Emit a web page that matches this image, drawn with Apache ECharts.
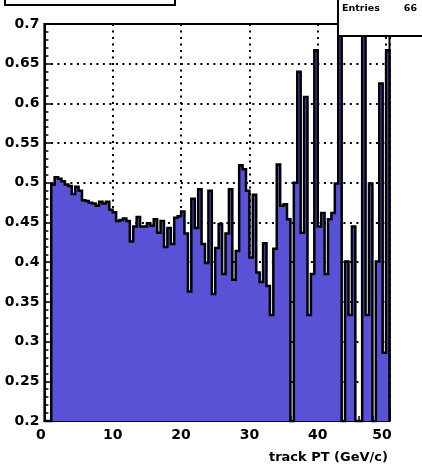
<!DOCTYPE html>
<html>
<head>
<meta charset="utf-8">
<script src="https://cdn.jsdelivr.net/npm/echarts@6/dist/echarts.min.js"></script>
<style>
html,body{margin:0;padding:0;background:#fff;}
#chart{width:422px;height:467px;}
</style>
</head>
<body>
<div id="chart"></div>
<script>
// ---- data ----
const xMin = 0;
const xMax = 50.5;
const binWidth = 0.5;
const yMin = 0.2;
const yMax = 0.7;
const xTickLabels = [0, 10, 20, 30, 40, 50];
const yTickLabels = ['0.2','0.25','0.3','0.35','0.4','0.45','0.5','0.55','0.6','0.65','0.7'];
const binValues = [
  0, 0, 0.498, 0.507, 0.505, 0.502, 0.498, 0.496, 0.486, 0.495,
  0.490, 0.478, 0.477, 0.475, 0.474, 0.471, 0.476, 0.474, 0.476, 0.466,
  0.463, 0.452, 0.453, 0.455, 0.452, 0.426, 0.445, 0.457, 0.445, 0.445,
  0.449, 0.446, 0.454, 0.437, 0.452, 0.419, 0.443, 0.423, 0.456, 0.458,
  0.464, 0.436, 0.363, 0.480, 0.443, 0.492, 0.423, 0.399, 0.490, 0.360,
  0.418, 0.448, 0.385, 0.436, 0.492, 0.378, 0.414, 0.522, 0.517, 0.490,
  0.406, 0.485, 0.387, 0.375, 0.424, 0.370, 0.3335, 0.417, 0.523, 0.471,
  0.473, 0.454, 0, 0.500, 0.640, 0.437, 0.608, 0.3335, 0.385, 0.667,
  0.445, 0.462, 0.385, 0.454, 0.462, 0.499, 1.0, 0, 0.401, 0.3335,
  0.445, 0, 0, 1.0, 0.3335, 0.499, 0, 0.401, 0.625, 0.286,
  0.667
];
const entriesLabel = 'Entries';
const entriesValue = '66';
const xTitle = 'track PT (GeV/c)';

// ---- build ----
const fillColor = '#5a52d6';
const binData = binValues.map((v, i) => [xMin + i * binWidth, xMin + (i + 1) * binWidth, v]);
const clampY = v => Math.min(Math.max(v, yMin), yMax);
const font = '"DejaVu Sans", Verdana, sans-serif';

function renderFill(params, api) {
  const lo = api.value(0), hi = api.value(1), v = api.value(2);
  const top = clampY(v);
  if (top <= yMin) return null;
  const p0 = api.coord([lo, top]);
  const p1 = api.coord([hi, yMin]);
  return {
    type: 'rect',
    shape: { x: p0[0] - 0.5, y: p0[1], width: p1[0] - p0[0] + 1, height: p1[1] - p0[1] },
    style: { fill: fillColor }
  };
}

function renderOutline(params, api) {
  if (params.dataIndex !== 0) return null;
  const pts = [api.coord([binData[0][0], yMin])];
  binData.forEach(b => {
    const c = clampY(b[2]);
    pts.push(api.coord([b[0], c]));
    pts.push(api.coord([b[1], c]));
  });
  pts.push(api.coord([binData[binData.length - 1][1], yMin]));
  return {
    type: 'polyline',
    shape: { points: pts },
    style: { stroke: '#000', lineWidth: 2.5, fill: null, lineJoin: 'miter' }
  };
}

const isMultiple = (v, step) => Math.abs(v / step - Math.round(v / step)) < 1e-6;
const labelStyle = { fontFamily: font, fontWeight: 'bold', fontSize: 14, color: '#000' };

const chart = echarts.init(document.getElementById('chart'), null, { renderer: 'canvas' });
chart.setOption({
  animation: false,
  backgroundColor: '#fff',
  grid: { left: 44.4, right: 32.5, top: 24, bottom: 46, show: true, borderColor: '#000', borderWidth: 2, backgroundColor: 'transparent' },
  xAxis: [
    {
      type: 'value', min: xMin, max: xMax, interval: 2, position: 'bottom',
      axisLine: { show: true, onZero: false, lineStyle: { color: '#000', width: 2 } },
      axisTick: { show: true, inside: true, length: 5, lineStyle: { color: '#000', width: 1.5 } },
      splitLine: { show: false },
      axisLabel: Object.assign({
        show: true, margin: 7,
        showMaxLabel: false,
        formatter: v => {
          if (!isMultiple(v, 10) || xTickLabels.indexOf(Math.round(v)) < 0) return '';
          if (v === 0) return '{l|0}';
          if (v === 50) return '{r|50}';
          return String(Math.round(v));
        },
        rich: {
          l: Object.assign({ padding: [0, 7, 0, 0] }, labelStyle),
          r: Object.assign({ padding: [0, 8, 0, 0] }, labelStyle)
        }
      }, labelStyle)
    },
    {
      type: 'value', min: xMin, max: xMax, interval: 10, position: 'bottom',
      axisLine: { show: false, onZero: false },
      axisTick: { show: true, inside: true, length: 10, lineStyle: { color: '#000', width: 1.5 } },
      axisLabel: { show: false },
      splitLine: { show: true, lineStyle: { color: '#000', width: 2, type: [2, 4.5] } }
    }
  ],
  yAxis: {
    type: 'value', min: yMin, max: yMax, interval: 0.05,
    axisLine: { show: true, onZero: false, lineStyle: { color: '#000', width: 2 } },
    axisTick: { show: true, inside: true, length: 8, lineStyle: { color: '#000', width: 1.5 } },
    minorTick: { show: true, splitNumber: 5, length: 4, lineStyle: { color: '#000', width: 1.5 } },
    splitLine: { show: true, lineStyle: { color: '#000', width: 2, type: [2, 4.5] } },
    axisLabel: Object.assign({
      margin: 5,
      formatter: v => {
        const idx = Math.round((v - yMin) / 0.05);
        return yTickLabels[idx] !== undefined ? yTickLabels[idx] : '';
      }
    }, labelStyle)
  },
  series: [
    {
      type: 'custom', name: 'fill', xAxisIndex: 0, coordinateSystem: 'cartesian2d',
      renderItem: renderFill, data: binData, z: 2, clip: true,
      encode: { x: [0, 1], y: 2 }
    },
    {
      type: 'custom', name: 'outline', xAxisIndex: 0, coordinateSystem: 'cartesian2d',
      renderItem: renderOutline, data: binData, z: 3, clip: false,
      encode: { x: [0, 1], y: 2 }
    }
  ],
  graphic: [
    { type: 'rect', z: 100, shape: { x: 5, y: -10, width: 170, height: 15 }, style: { fill: '#fff', stroke: '#000', lineWidth: 2 } },
    { type: 'rect', z: 100, shape: { x: 338, y: -10, width: 100, height: 46 }, style: { fill: '#fff', stroke: '#000', lineWidth: 2 } },
    { type: 'text', z: 101, left: 342, top: 4, style: { text: entriesLabel, font: 'bold 9.5px ' + font, fill: '#000' } },
    { type: 'text', z: 101, right: 5, top: 4, style: { text: entriesValue, font: 'bold 9.5px ' + font, fill: '#000', textAlign: 'right' } },
    { type: 'text', z: 101, right: 34, top: 451, style: { text: xTitle, font: 'bold 13px ' + font, fill: '#000', textAlign: 'right' } }
  ]
});
</script>
</body>
</html>
